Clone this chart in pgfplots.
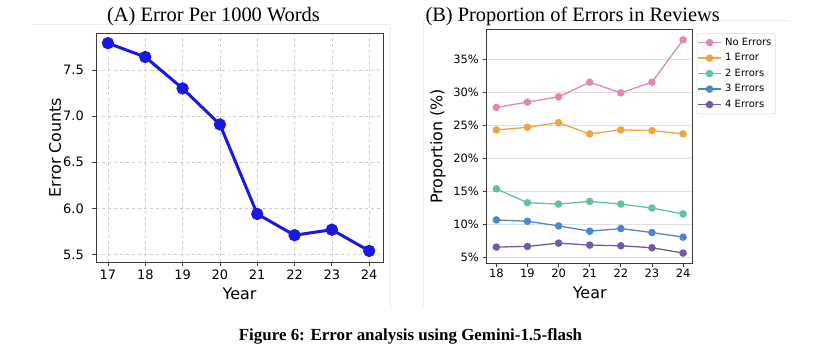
\documentclass[border=0pt]{standalone}
\usepackage{fontspec}
\setmainfont{Liberation Serif}
\newfontfamily\dejavu{DejaVu Sans}
\usepackage{pgfplots}
\pgfplotsset{compat=1.18}
\definecolor{colA}{RGB}{25,25,225}
\definecolor{cPink}{RGB}{225,135,180}
\definecolor{cOrange}{RGB}{238,165,65}
\definecolor{cGreen}{RGB}{95,195,155}
\definecolor{cBlue}{RGB}{75,135,205}
\definecolor{cPurple}{RGB}{115,88,165}
\definecolor{axcol}{RGB}{60,60,60}
\begin{document}
\begin{tikzpicture}
\useasboundingbox (0,0) rectangle (813bp,-356bp);
% faint image frames
\draw[black!7, line width=0.8bp] (32bp,-24bp) -- (390bp,-24bp) -- (390bp,-310bp);
\draw[black!7, line width=0.8bp] (423bp,-307bp) -- (423bp,-20bp) -- (790bp,-20bp);
% Panel A
\begin{axis}[
  at={(96bp,-262bp)}, anchor=south west, scale only axis,
  width=287bp, height=229bp,
  xmin=16.68, xmax=24.37, ymin=5.42, ymax=7.9,
  xtick={17,18,19,20,21,22,23,24},
  xticklabels={17,18,19,20,21,22,23,24},
  ytick={5.5,6,6.5,7,7.5},
  yticklabels={5.5,6.0,6.5,7.0,7.5},
  tick pos=left, tick align=outside, major tick length=4bp,
  tick style={axcol, line width=0.8bp},
  axis line style={axcol, line width=0.8bp},
  grid=major, grid style={dashed, black!20, line width=0.6bp},
  ticklabel style={font=\dejavu\fontsize{13}{13}\selectfont, inner sep=0pt},
  yticklabel shift=8bp, xticklabel shift=4bp,
  xlabel={Year}, ylabel={Error Counts},
  label style={font=\dejavu\fontsize{16}{16}\selectfont},
  xlabel style={at={(axis description cs:0.5,-0.1616)}, anchor=base, inner sep=0pt},
  ylabel style={at={(axis description cs:-0.1429,0.5)}, anchor=center, inner sep=0pt},
  clip=false,
]
\addplot[colA, line width=3bp, mark=*, mark size=4.6bp, mark options={solid, fill=colA, draw=colA}]
coordinates {(17,7.79) (18,7.64) (19,7.30) (20,6.91) (21,5.94) (22,5.71) (23,5.77) (24,5.54)};
\end{axis}
% Panel B
\begin{axis}[
  at={(486.7bp,-263.3bp)}, anchor=south west, scale only axis,
  width=206bp, height=234bp,
  xmin=17.69, xmax=24.31, ymin=4.15, ymax=39.5,
  xtick={18,19,20,21,22,23,24},
  xticklabels={18,19,20,21,22,23,24},
  ytick={5,10,15,20,25,30,35},
  yticklabels={5\%,10\%,15\%,20\%,25\%,30\%,35\%},
  tick pos=left, tick align=outside, major tick length=4bp,
  tick style={axcol, line width=0.8bp},
  axis line style={axcol, line width=0.8bp},
  ymajorgrids, grid style={black!12, line width=0.8bp},
  ticklabel style={font=\dejavu\fontsize{11.5}{11.5}\selectfont, inner sep=0pt},
  yticklabel shift=3.7bp, xticklabel shift=1bp,
  xlabel={Year}, ylabel={Proportion (\%)},
  label style={font=\dejavu\fontsize{16}{16}\selectfont},
  xlabel style={at={(axis description cs:0.5,-0.1496)}, anchor=base, inner sep=0pt},
  ylabel style={at={(axis description cs:-0.236,0.5)}, anchor=center, inner sep=0pt},
  clip=false,
  legend style={at={(axis description cs:1.019,0.984)}, anchor=north west,
    draw=black!15, rounded corners=2bp, line width=0.6bp,
    inner xsep=0.5bp, inner ysep=4.5bp, row sep=6bp,
    font=\dejavu\fontsize{10}{10}\selectfont,
    nodes={inner xsep=3.5bp, inner ysep=0pt, text height=7.5bp, text depth=2bp}},
  legend cell align=left,
  legend image code/.code={\draw[mark repeat=2, mark phase=2] plot coordinates {(0bp,0bp) (11.5bp,0bp) (23bp,0bp)};},
  every axis plot/.append style={line width=1.3bp, mark=*, mark size=3.1bp},
]
\addplot[cPink, mark options={fill=cPink, draw=cPink}]
coordinates {(18,27.7) (19,28.5) (20,29.3) (21,31.5) (22,29.9) (23,31.5) (24,37.9)};
\addlegendentry{No Errors}
\addplot[cOrange, mark options={fill=cOrange, draw=cOrange}]
coordinates {(18,24.3) (19,24.7) (20,25.4) (21,23.7) (22,24.3) (23,24.2) (24,23.7)};
\addlegendentry{1 Error}
\addplot[cGreen, mark options={fill=cGreen, draw=cGreen}]
coordinates {(18,15.4) (19,13.3) (20,13.1) (21,13.5) (22,13.1) (23,12.5) (24,11.6)};
\addlegendentry{2 Errors}
\addplot[cBlue, mark options={fill=cBlue, draw=cBlue}]
coordinates {(18,10.7) (19,10.5) (20,9.8) (21,9.0) (22,9.4) (23,8.8) (24,8.1)};
\addlegendentry{3 Errors}
\addplot[cPurple, mark options={fill=cPurple, draw=cPurple}]
coordinates {(18,6.6) (19,6.7) (20,7.2) (21,6.9) (22,6.8) (23,6.5) (24,5.7)};
\addlegendentry{4 Errors}
\end{axis}
% titles and caption
\node[font=\fontsize{20.5}{20.5}\selectfont, anchor=base, inner sep=0pt] at (213.5bp,-21.5bp) {(A) Error Per 1000 Words};
\node[font=\fontsize{20.5}{20.5}\selectfont, anchor=base, inner sep=0pt] at (572.7bp,-21bp) {(B) Proportion of Errors in Reviews};
\node[font=\bfseries\fontsize{17}{17}\selectfont, anchor=base, inner sep=0pt] at (410.5bp,-340.7bp) {Figure 6: Error analysis using Gemini-1.5-flash};
\end{tikzpicture}
\end{document}
